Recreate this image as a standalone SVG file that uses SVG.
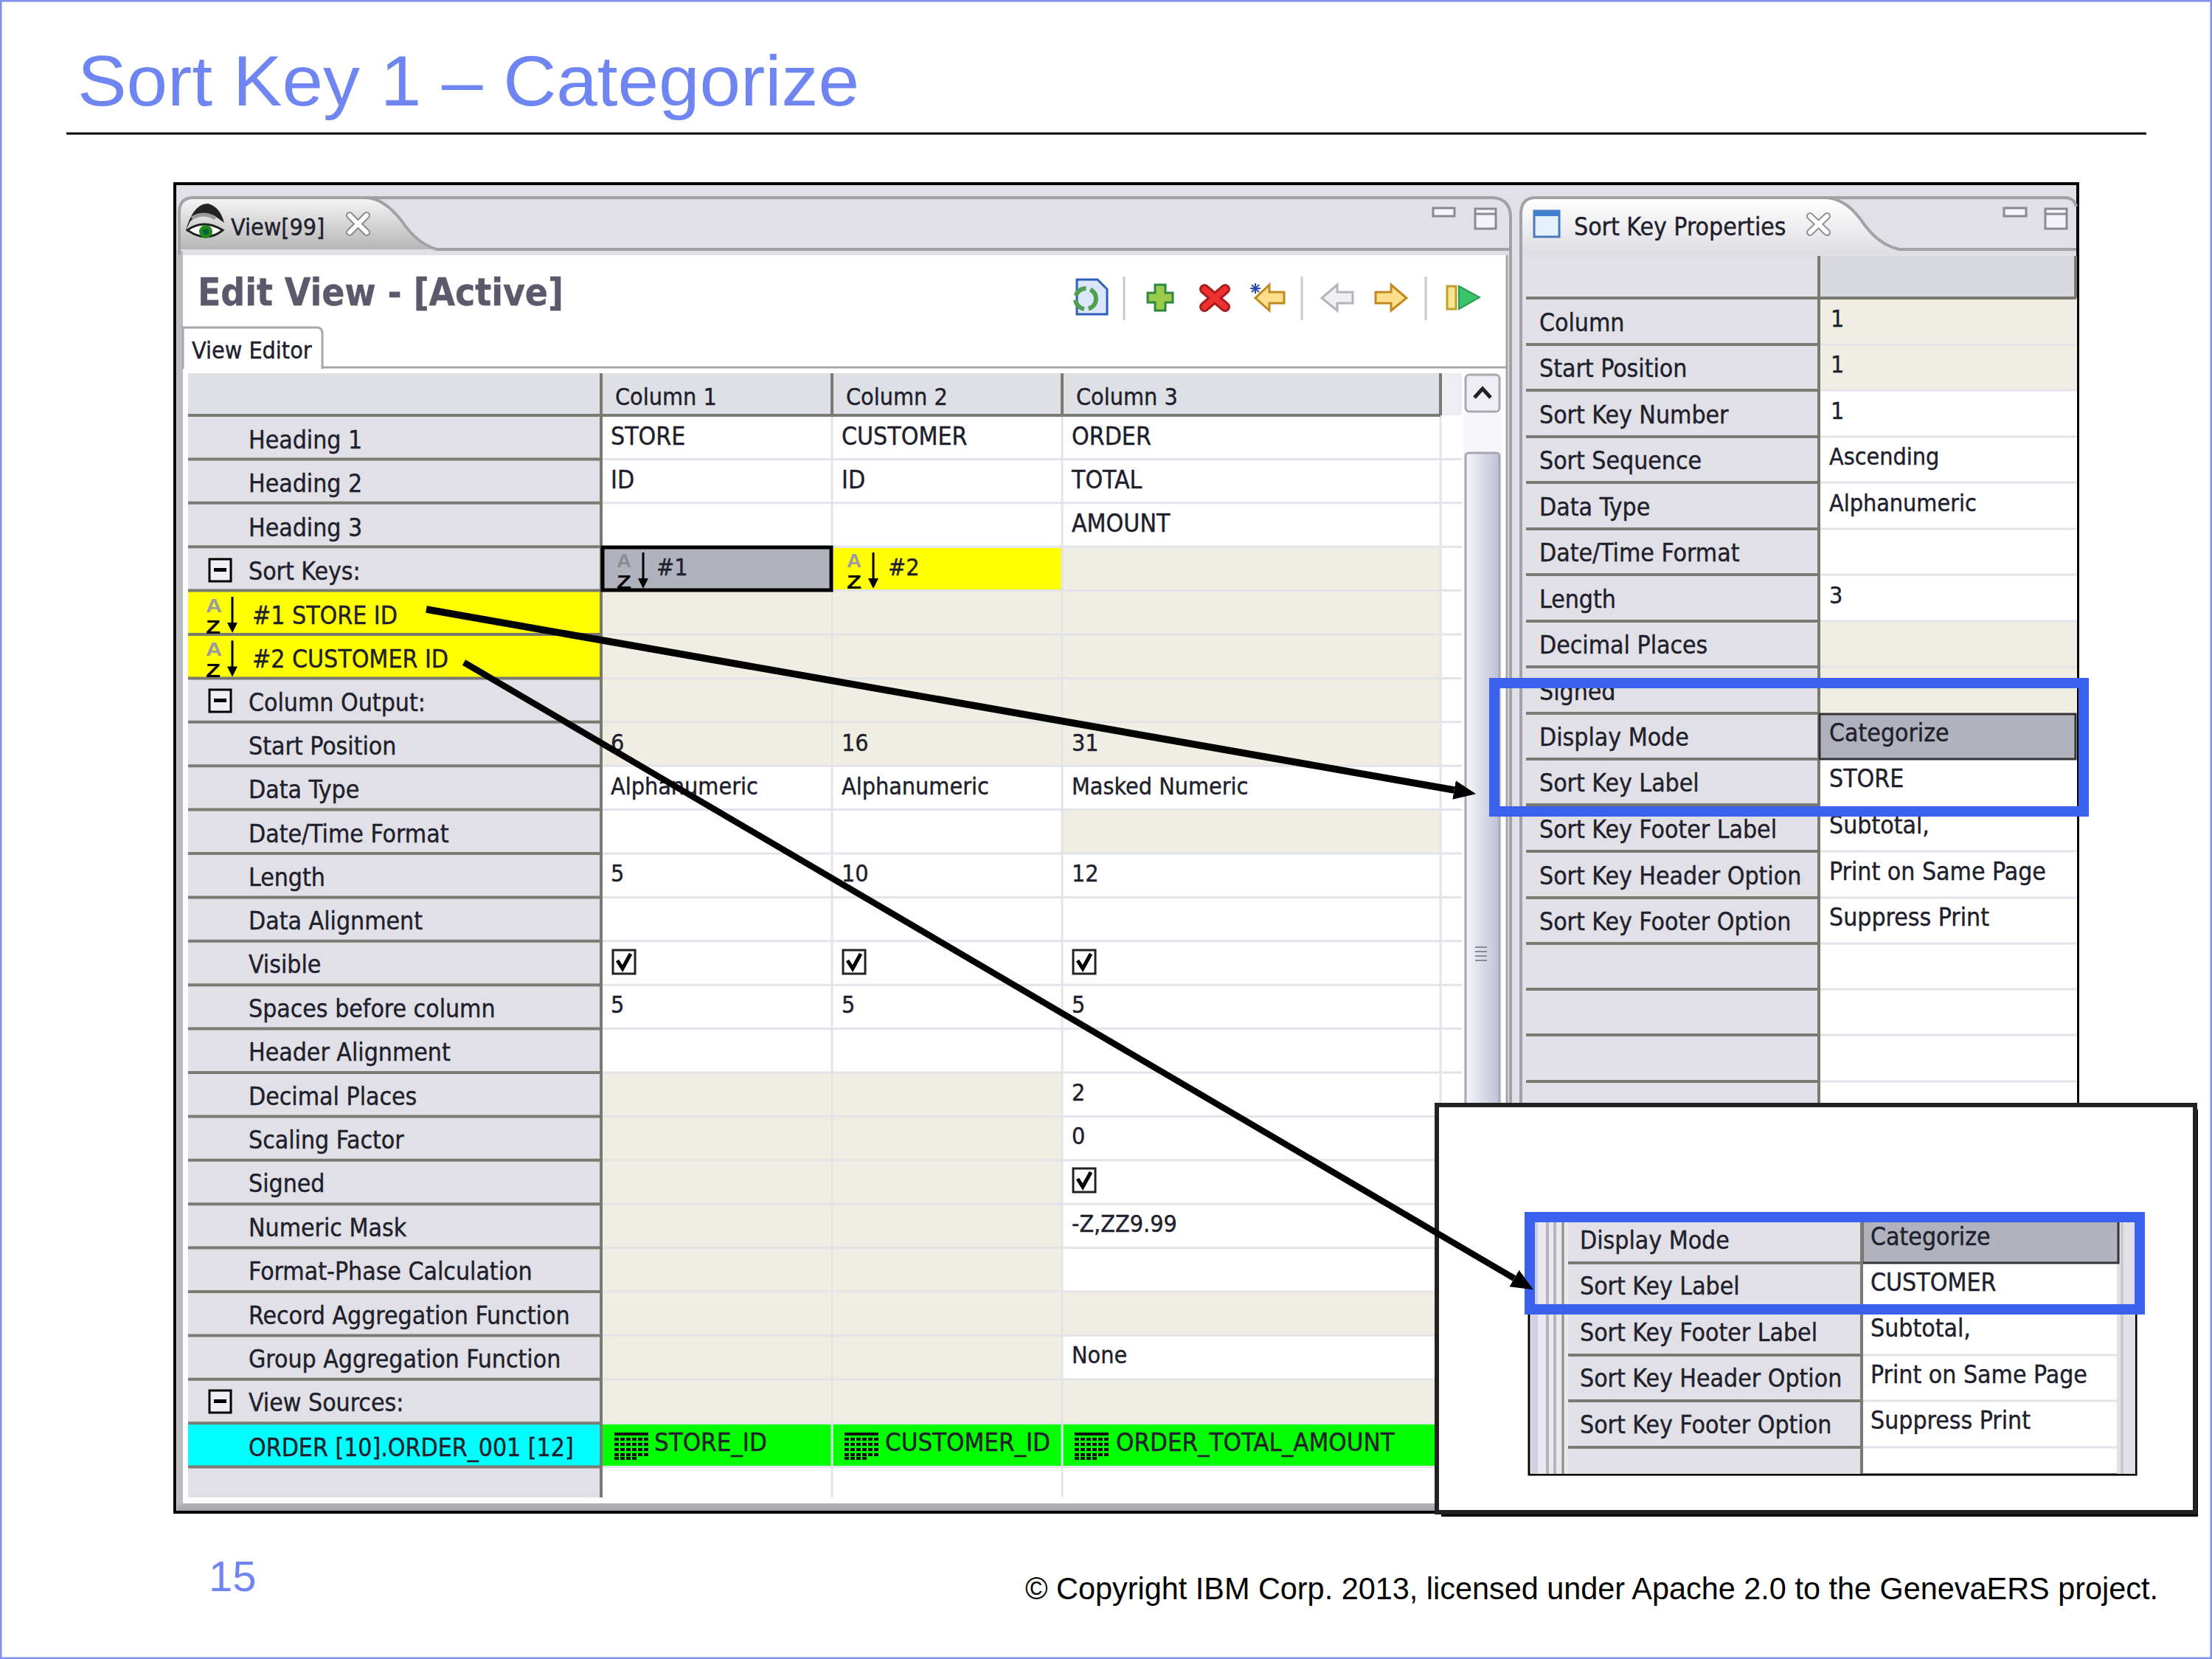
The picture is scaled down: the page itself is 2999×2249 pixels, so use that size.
<svg xmlns="http://www.w3.org/2000/svg" width="2999" height="2249" viewBox="0 0 2999 2249">
<style>
text{font-family:"DejaVu Sans Condensed","DejaVu Sans",sans-serif;font-stretch:condensed;font-size:33.5px;fill:#20202c;stroke:#20202c;stroke-width:.4}
.v{font-size:32px}
.w{font-size:34.5px}
.slide{font-family:"Liberation Sans",Arial,sans-serif;font-stretch:normal;stroke:none}
.hd{fill:#5a5a6c;stroke:#5a5a6c;font-weight:bold;font-size:51px}
.a{fill:#9a9aa2;stroke:none;font-family:"Liberation Sans",sans-serif;font-weight:bold;font-size:25px;font-stretch:normal}
.z{fill:#000;stroke:none;font-family:"Liberation Sans",sans-serif;font-weight:bold;font-size:26.5px;font-stretch:normal}
.gr{fill:none;stroke:#e3e3ea;stroke-width:3}
.dk{fill:none;stroke:#7a7a72;stroke-width:4}
.cream{fill:#f0eee2}
.lab{fill:#e0e0e6}
.blue{fill:none;stroke:#3b62ee;stroke-width:14}
.wb{fill:#f4f4f8;stroke:#8a8a92;stroke-width:3}
.sep{stroke:#c8c8d0;stroke-width:3}
.mn{fill:#f0f0f4;stroke:#000;stroke-width:3}
.cb{fill:#fff;stroke:#222;stroke-width:3}
.ck{fill:none;stroke:#000;stroke-width:5}
.ar{stroke:#000;fill:none}
.tab{fill:none;stroke:#a2a2a6;stroke-width:4}
.x{fill:none;stroke:#8c8c86;stroke-width:10;stroke-linecap:round}
.x2{fill:none;stroke:#fff;stroke-width:6;stroke-linecap:round}
</style>
<defs>
<linearGradient id="tg1" x1="0" y1="0" x2="0" y2="1"><stop offset="0" stop-color="#f6f6f6"/><stop offset="1" stop-color="#b4b4b4"/></linearGradient>
<linearGradient id="tg2" x1="0" y1="0" x2="0" y2="1"><stop offset="0" stop-color="#ffffff"/><stop offset="1" stop-color="#dedee2"/></linearGradient>
<linearGradient id="sb" x1="0" y1="0" x2="1" y2="0"><stop offset="0" stop-color="#f6f6fa"/><stop offset="1" stop-color="#bfc0d6"/></linearGradient>
<linearGradient id="bot" x1="0" y1="0" x2="0" y2="1"><stop offset="0" stop-color="#dedee2"/><stop offset="1" stop-color="#a8a8ac"/></linearGradient>
<marker id="head" markerUnits="userSpaceOnUse" markerWidth="32" markerHeight="30" refX="0" refY="15" orient="auto"><path d="M0 2L30 15L0 28z" fill="#000"/></marker>
<g id="tbl"><path d="M0 2H46" stroke="#111" stroke-width="4"/><path d="M0 9H46M0 16H46M0 23H46M0 30H46M0 35H30" stroke="#111" stroke-width="4" stroke-dasharray="6 2"/></g>
<g id="chk"><rect class="cb" x="1" y="1" width="30" height="32"/><path class="ck" d="M7 15L14 26L25 6"/></g>
<g id="minus"><rect class="mn" x="1" y="1" width="29" height="30"/><rect x="7" y="13" width="17" height="5" fill="#000"/></g>
</defs>
<rect width="2999" height="2249" fill="#fff"/>
<rect x="1" y="1" width="2997" height="2247" fill="none" stroke="#7f90ee" stroke-width="3"/>
<g id="slide-title">
<text class="slide" x="105" y="143" style="font-size:96px;fill:#6f86f2" textLength="1060" lengthAdjust="spacingAndGlyphs">Sort Key 1 – Categorize</text>
<path d="M90 181H2910" stroke="#000" stroke-width="3"/>
</g>
<g id="window">
<rect x="237" y="249" width="2580" height="1801" fill="#e0e0e6" stroke="#000" stroke-width="4"/>
</g>
<g id="view-editor">
<rect x="240" y="1990" width="1800" height="58" fill="url(#bot)"/>
<rect x="240" y="340" width="8" height="1700" fill="#bcbcc0"/>
<path d="M243 340V288Q243 268 262 268H495Q520 268 545 300Q565 330 592 338H243Z" fill="url(#tg1)"/>
<path class="tab" d="M243 345V288Q243 268 262 268H495Q520 268 545 300Q565 330 592 338H2046M495 268H2022Q2046 268 2048 292V2040"/>
<rect x="248" y="346" width="1794" height="1692" fill="#fff"/>
<path d="M248 498H2042" stroke="#a8a8ac" stroke-width="3"/>
<path d="M248 500V444H430Q437 444 437 452V500" fill="#fff" stroke="#a8a8ac" stroke-width="3"/>
<rect x="250" y="490" width="185" height="12" fill="#fff"/>
<g id="eye-icon"><path d="M252 312Q262 276 282 276Q298 280 304 302L290 292Q272 286 258 300Z" fill="#222"/><path d="M254 312Q276 296 302 312Q280 330 254 312Z" fill="#fff" stroke="#222" stroke-width="3"/><circle cx="279" cy="314" r="9" fill="#1f8a1f"/><circle cx="279" cy="314" r="4" fill="#063"/><path d="M260 296Q276 286 292 296" stroke="#999" stroke-width="5" fill="none"/></g>
<text class="v" x="313" y="319">View[99]</text>
<g id="close1"><path class="x" d="M474 292L497 315M497 292L474 315"/><path class="x2" d="M474 292L497 315M497 292L474 315"/></g>
<text class="hd" x="268" y="414">Edit View - [Active]</text>
<text class="v" x="260" y="486">View Editor</text>
<g id="toolbar">
<path d="M1460 379H1488L1501 392V426H1460Z" fill="#dbe6fa" stroke="#2e5fb8" stroke-width="3"/>
<circle cx="1472" cy="405" r="14" fill="none" stroke="#4da04d" stroke-width="6" stroke-dasharray="18 6"/>
<path class="sep" d="M1524 375V434M1765 375V434M1933 375V434"/>
<path d="M1566 386H1580V397H1590V410H1580V421H1566V410H1556V397H1566Z" fill="#9ccb4c" stroke="#2c8a3c" stroke-width="3"/>
<path d="M1633 392L1661 416M1661 392L1633 416" stroke="#a81c1c" stroke-width="14" stroke-linecap="round"/><path d="M1633 392L1661 416M1661 392L1633 416" stroke="#ee3030" stroke-width="8" stroke-linecap="round"/>
<path d="M1741 396H1721V386L1702 404L1721 421V411H1741Z" fill="#ffe08a" stroke="#c08a20" stroke-width="3"/>
<path d="M1695 391H1709M1702 384V398M1697 386L1707 396M1707 386L1697 396" stroke="#2a4ea8" stroke-width="2"/>
<path d="M1834 396H1813V386L1792 404L1813 421V411H1834Z" fill="#f0f0f2" stroke="#b4b4bc" stroke-width="3"/>
<path d="M1865 396H1886V386L1907 404L1886 421V411H1865Z" fill="#ffe08a" stroke="#c08a20" stroke-width="3"/>
<rect x="1962" y="388" width="12" height="31" fill="#f4e68c" stroke="#c0a030" stroke-width="3"/>
<path d="M1978 388L2006 403L1978 419Z" fill="#3cc46a" stroke="#2a9a50" stroke-width="2"/>
<path class="wb" d="M1943 282H1972V293H1943Z"/>
<path class="wb" d="M2000 283H2028V310H2000ZM2000 290H2028"/>
</g>
<g id="grid">
<rect x="255" y="506" width="560" height="1524" class="lab"/>
<rect x="255" y="506" width="1698" height="57" fill="#dfe0e6"/>
<rect x="1953" y="506" width="29" height="57" fill="#eeeef2"/>
<rect class="cream" x="817" y="800.6" width="1136" height="237.6"/>
<rect class="cream" x="1440" y="741.2" width="513" height="59.4"/>
<rect class="cream" x="1440" y="1097.6" width="513" height="59.4"/>
<rect class="cream" x="817" y="1454" width="623" height="475.2"/>
<rect class="cream" x="1440" y="1751" width="513" height="59.4"/>
<rect class="cream" x="1440" y="1869.8" width="513" height="59.4"/>
<rect x="255" y="800.6" width="560" height="118.8" fill="#ff0"/>
<rect x="1130" y="743" width="309" height="57" fill="#ff0"/>
<rect x="255" y="1929.2" width="560" height="59.4" fill="#0ff"/>
<rect x="817" y="1931" width="1136" height="56" fill="#0f0"/>
<path class="gr" d="M817 622.4H1982M817 681.8H1982M817 741.2H1982M817 800.6H1982M817 860H1982M817 919.4H1982M817 978.8H1982M817 1038.2H1982M817 1097.6H1982M817 1157H1982M817 1216.4H1982M817 1275.8H1982M817 1335.2H1982M817 1394.6H1982M817 1454H1982M817 1513.4H1982M817 1572.8H1982M817 1632.2H1982M817 1691.6H1982M817 1751H1982M817 1810.4H1982M817 1869.8H1982M817 1929.2H1982M817 1988.6H1982M1128 563V2030M1440 563V2030M1953 563V2030"/>
<path class="dk" d="M255 563H1953M255 622.4H815M255 681.8H815M255 741.2H815M255 800.6H815M255 860H815M255 919.4H815M255 978.8H815M255 1038.2H815M255 1097.6H815M255 1157H815M255 1216.4H815M255 1275.8H815M255 1335.2H815M255 1394.6H815M255 1454H815M255 1513.4H815M255 1572.8H815M255 1632.2H815M255 1691.6H815M255 1751H815M255 1810.4H815M255 1869.8H815M255 1929.2H815M255 1988.6H815M815 506V2030M1128 506V563M1440 506V563M1953 506V563"/>
<rect x="817" y="742" width="310" height="58" fill="#b0b2be" stroke="#000" stroke-width="5"/>
<text class="v" x="834" y="549">Column 1</text><text class="v" x="1147" y="549">Column 2</text><text class="v" x="1459" y="549">Column 3</text>
<text x="337" y="608">Heading 1</text><text x="337" y="667.4">Heading 2</text><text x="337" y="726.8">Heading 3</text>
<use href="#minus" x="283" y="757"/><text x="337" y="786">Sort Keys:</text>
<text class="a" x="279" y="829.5" textLength="22" lengthAdjust="spacingAndGlyphs">A</text><text class="z" x="279" y="859" textLength="20" lengthAdjust="spacingAndGlyphs">Z</text><path d="M315 809V848" stroke="#000" stroke-width="3"/><path d="M308 844H322L315 858Z"/>
<text x="342" y="845.6">#1 STORE ID</text>
<text class="a" x="279" y="888.9" textLength="22" lengthAdjust="spacingAndGlyphs">A</text><text class="z" x="279" y="918.4" textLength="20" lengthAdjust="spacingAndGlyphs">Z</text><path d="M315 868.4V907.4" stroke="#000" stroke-width="3"/><path d="M308 903.4H322L315 917.4Z"/>
<text x="342" y="905">#2 CUSTOMER ID</text>
<use href="#minus" x="283" y="934"/><text x="337" y="964">Column Output:</text>
<text x="337" y="1023">Start Position</text><text x="337" y="1082">Data Type</text><text x="337" y="1141.5">Date/Time Format</text><text x="337" y="1201">Length</text><text x="337" y="1260">Data Alignment</text><text x="337" y="1319">Visible</text><text x="337" y="1378.5">Spaces before column</text><text x="337" y="1438">Header Alignment</text><text x="337" y="1497.5">Decimal Places</text><text x="337" y="1557">Scaling Factor</text><text x="337" y="1616">Signed</text><text x="337" y="1675.5">Numeric Mask</text><text x="337" y="1735">Format-Phase Calculation</text><text x="337" y="1794.5">Record Aggregation Function</text><text x="337" y="1854">Group Aggregation Function</text>
<use href="#minus" x="283" y="1884"/><text x="337" y="1913">View Sources:</text>
<text x="337" y="1973.5">ORDER [10].ORDER_001 [12]</text>
<text x="828" y="602.5">STORE</text><text x="1141" y="602.5">CUSTOMER</text><text x="1453" y="602.5">ORDER</text>
<text x="828" y="662">ID</text><text x="1141" y="662">ID</text><text x="1453" y="662">TOTAL</text>
<text x="1453" y="721.3">AMOUNT</text>
<text class="a" x="836" y="769" textLength="20" lengthAdjust="spacingAndGlyphs" style="fill:#8c8c96">A</text><text class="z" x="836" y="798" textLength="20" lengthAdjust="spacingAndGlyphs">Z</text><path d="M872 749V788" stroke="#000" stroke-width="3"/><path d="M865 784H879L872 798Z"/><text class="v" x="890" y="780">#1</text>
<text class="a" x="1148" y="769" textLength="20" lengthAdjust="spacingAndGlyphs">A</text><text class="z" x="1148" y="798" textLength="20" lengthAdjust="spacingAndGlyphs">Z</text><path d="M1184 749V788" stroke="#000" stroke-width="3"/><path d="M1177 784H1191L1184 798Z"/><text class="v" x="1204" y="780">#2</text>
<text class="v" x="828" y="1018">6</text><text class="v" x="1141" y="1018">16</text><text class="v" x="1453" y="1018">31</text>
<text class="v" x="828" y="1077">Alphanumeric</text><text class="v" x="1141" y="1077">Alphanumeric</text><text class="v" x="1453" y="1077">Masked Numeric</text>
<text class="v" x="828" y="1195">5</text><text class="v" x="1141" y="1195">10</text><text class="v" x="1453" y="1195">12</text>
<use href="#chk" x="830" y="1287"/><use href="#chk" x="1142" y="1287"/><use href="#chk" x="1454" y="1287"/>
<text class="v" x="828" y="1373">5</text><text class="v" x="1141" y="1373">5</text><text class="v" x="1453" y="1373">5</text>
<text class="v" x="1453" y="1492">2</text><text class="v" x="1453" y="1551">0</text>
<use href="#chk" x="1454" y="1583"/>
<text class="v" x="1453" y="1670">-Z,ZZ9.99</text><text class="v" x="1453" y="1848">None</text>
<use href="#tbl" x="833" y="1942"/><text class="w" x="887" y="1967">STORE_ID</text>
<use href="#tbl" x="1145" y="1942"/><text class="w" x="1200" y="1967">CUSTOMER_ID</text>
<use href="#tbl" x="1457" y="1942"/><text class="w" x="1513" y="1967">ORDER_TOTAL_AMOUNT</text>
</g>
<g id="scrollbar">
<rect x="1984" y="560" width="52" height="1470" fill="#f7f7fb"/>
<rect x="1987" y="508" width="46" height="50" rx="5" fill="#eeeef4" stroke="#a8a8b0" stroke-width="3"/>
<path d="M1999 539L2010 527L2021 539" fill="none" stroke="#222" stroke-width="5"/>
<rect x="1987" y="614" width="46" height="1416" rx="4" fill="url(#sb)" stroke="#a8a8b0" stroke-width="3"/>
<path d="M2000 1284H2016M2000 1290H2016M2000 1296H2016M2000 1302H2016" stroke="#8a8a94" stroke-width="2"/>
</g>
<path d="M2043 346V2040M2048 346V2040" stroke="#a4a4a8" stroke-width="3"/>
</g>
<g id="sort-key-properties">
<path d="M2062 345V290Q2062 268 2082 268H2477Q2505 270 2528 305Q2548 332 2575 338H2815V345Z" fill="url(#tg2)"/>
<path class="tab" d="M2062 2040V290Q2062 268 2082 268H2477Q2505 270 2528 305Q2548 332 2575 338H2815M2477 268H2800Q2812 268 2815 280"/>
<rect x="2080" y="286" width="34" height="35" fill="#e4f1fb" stroke="#4a78b8" stroke-width="3"/><rect x="2080" y="286" width="34" height="7" fill="#3f7fcf"/>
<text x="2134" y="319">Sort Key Properties</text>
<g id="close2"><path class="x" d="M2454 293L2477 315M2477 293L2454 315"/><path class="x2" d="M2454 293L2477 315M2477 293L2454 315"/></g>
<path class="wb" d="M2717 282H2747V293H2717Z"/>
<path class="wb" d="M2773 283H2802V310H2773ZM2773 290H2802"/>
<rect x="2069" y="347" width="397" height="1160" class="lab"/>
<rect x="2466" y="347" width="350" height="57" fill="#d9dadf"/>
<rect x="2468" y="404" width="348" height="1100" fill="#fff"/>
<rect class="cream" x="2468" y="404" width="348" height="125"/>
<rect class="cream" x="2468" y="842" width="348" height="125"/>
<path class="gr" d="M2468 467H2815M2468 529H2815M2468 592H2815M2468 654H2815M2468 717H2815M2468 779H2815M2468 842H2815M2468 904H2815M2468 1154H2815M2468 1217H2815M2468 1279H2815M2468 1341H2815M2468 1403H2815M2468 1466H2815"/>
<path class="dk" d="M2069 404H2815M2069 467H2466M2069 529H2466M2069 592H2466M2069 654H2466M2069 717H2466M2069 779H2466M2069 842H2466M2069 904H2466M2069 967H2466M2069 1029H2466M2069 1091H2466M2069 1154H2466M2069 1217H2466M2069 1279H2466M2069 1341H2466M2069 1403H2466M2069 1466H2466M2466 347V1500M2814 347V404"/>
<rect x="2467" y="968" width="347" height="61" fill="#b0b2be" stroke="#333" stroke-width="3"/>
<rect x="2468" y="1031" width="346" height="60" fill="#fff"/>
<text x="2087" y="449">Column</text><text x="2087" y="511">Start Position</text><text x="2087" y="574">Sort Key Number</text><text x="2087" y="636">Sort Sequence</text><text x="2087" y="699">Data Type</text><text x="2087" y="761">Date/Time Format</text><text x="2087" y="824">Length</text><text x="2087" y="886">Decimal Places</text><text x="2087" y="949">Signed</text><text x="2087" y="1011">Display Mode</text><text x="2087" y="1073">Sort Key Label</text><text x="2087" y="1136">Sort Key Footer Label</text><text x="2087" y="1199">Sort Key Header Option</text><text x="2087" y="1261">Sort Key Footer Option</text>
<text class="v" x="2482" y="443">1</text><text class="v" x="2482" y="505">1</text><text class="v" x="2482" y="568">1</text><text class="v" x="2480" y="630">Ascending</text><text class="v" x="2480" y="693">Alphanumeric</text><text class="v" x="2480" y="818">3</text><text x="2480" y="1005">Categorize</text><text x="2480" y="1067">STORE</text><text x="2480" y="1130">Subtotal,</text><text x="2480" y="1193">Print on Same Page</text><text x="2480" y="1255">Suppress Print</text>
</g>
<rect id="highlight-store" class="blue" x="2026" y="926" width="799" height="174"/>
<g id="inset">
<rect x="1954" y="1504" width="1026" height="552" fill="#000"/>
<rect x="1948" y="1498" width="1028" height="552" fill="#fff" stroke="#222" stroke-width="6"/>
<rect x="2073" y="1650" width="823" height="349" fill="#fff" stroke="#000" stroke-width="3"/>
<rect x="2075" y="1650" width="51" height="348" fill="#e8e8ee"/>
<rect x="2076" y="1650" width="9" height="348" fill="#cfd0e2"/>
<path d="M2098 1650V1998M2108 1650V1998" stroke="#b4b4ba" stroke-width="4"/><path d="M2119 1650V1998" stroke="#8c8c88" stroke-width="3"/>
<rect x="2126" y="1650" width="398" height="348" class="lab"/>
<rect x="2870" y="1650" width="25" height="348" fill="#e0e0e6"/>
<path d="M2877 1650V1998" stroke="#c4c4ca" stroke-width="3"/>
<rect x="2525" y="1650" width="347" height="62" fill="#b0b2be" stroke="#333" stroke-width="3"/>
<path class="gr" d="M2526 1774H2870M2526 1837H2870M2526 1899H2870M2526 1962H2870"/>
<path class="dk" d="M2126 1712H2524M2126 1774H2524M2126 1837H2524M2126 1899H2524M2126 1962H2524M2524 1650V1998"/>
<text x="2142" y="1693">Display Mode</text><text x="2142" y="1755">Sort Key Label</text><text x="2142" y="1818">Sort Key Footer Label</text><text x="2142" y="1880">Sort Key Header Option</text><text x="2142" y="1943">Sort Key Footer Option</text>
<text x="2536" y="1688">Categorize</text><text x="2536" y="1750">CUSTOMER</text><text x="2536" y="1812">Subtotal,</text><text x="2536" y="1875">Print on Same Page</text><text x="2536" y="1937">Suppress Print</text>
<rect id="highlight-customer" class="blue" x="2074" y="1650" width="827" height="125"/>
</g>
<g id="connectors">
<line class="ar" x1="578" y1="826" x2="1971.5" y2="1071" stroke-width="9.5" marker-end="url(#head)"/>
<line class="ar" x1="629" y1="898" x2="2053" y2="1733" stroke-width="8.5" marker-end="url(#head)"/>
</g>
<g id="footer">
<text class="slide" x="283" y="2157" style="font-size:58px;fill:#6f86f2">15</text>
<text class="slide" x="1390" y="2168" style="font-size:43px;fill:#000" textLength="1536" lengthAdjust="spacingAndGlyphs">© Copyright IBM Corp. 2013, licensed under Apache 2.0 to the GenevaERS project.</text>
</g>
</svg>
